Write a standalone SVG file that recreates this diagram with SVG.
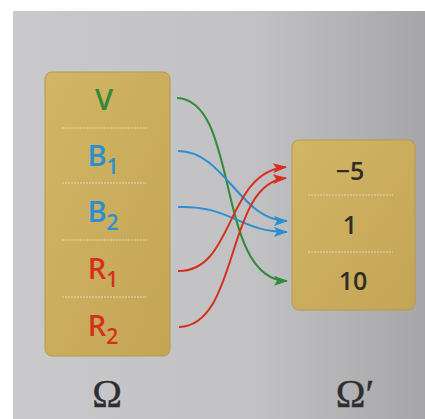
<svg xmlns="http://www.w3.org/2000/svg" width="425" height="419" viewBox="0 0 425 419">
<defs>
<linearGradient id="bg" x1="0" y1="0" x2="1" y2="0">
<stop offset="0" stop-color="#c9c9cb"/>
<stop offset="0.6" stop-color="#c1c1c3"/>
<stop offset="1" stop-color="#a6a6a8"/>
</linearGradient>
<linearGradient id="box" x1="0" y1="0" x2="1" y2="1">
<stop offset="0" stop-color="#d2b565"/>
<stop offset="1" stop-color="#c3a555"/>
</linearGradient>
<marker id="ag" viewBox="0 0 14 10" refX="13" refY="5" markerWidth="14" markerHeight="10" markerUnits="userSpaceOnUse" orient="auto"><path d="M0,0 L14,5 L0,10 L3,5 Z" fill="#2f8a3a"/></marker>
<marker id="ab" viewBox="0 0 14 10" refX="13" refY="5" markerWidth="14" markerHeight="10" markerUnits="userSpaceOnUse" orient="auto"><path d="M0,0 L14,5 L0,10 L3,5 Z" fill="#2a8fd0"/></marker>
<marker id="ar" viewBox="0 0 14 10" refX="13" refY="5" markerWidth="14" markerHeight="10" markerUnits="userSpaceOnUse" orient="auto"><path d="M0,0 L14,5 L0,10 L3,5 Z" fill="#d5301e"/></marker>
</defs>
<style>
.box{fill:url(#box);stroke:#b8994a;stroke-width:1}
.sep{stroke:#e6d8ae;stroke-width:1.2;stroke-dasharray:2 1}
.lbl{font-family:"Open Sans","DejaVu Sans",sans-serif;font-weight:600;font-size:29px;text-anchor:middle}
.sub{font-size:21px}
.num{font-family:"Open Sans","DejaVu Sans",sans-serif;font-weight:600;font-size:25px;text-anchor:middle;fill:#322d24}
.om{font-family:"Liberation Serif","DejaVu Serif",serif;font-size:40px;text-anchor:middle;fill:#2e2e30;stroke:#2e2e30;stroke-width:0.4}
.g{fill:#2f8a3a}.b{fill:#2a8fd0}.r{fill:#d5301e}
.c{fill:none;stroke-width:2}
</style>
<rect x="0" y="0" width="425" height="419" fill="#ffffff"/>
<rect x="13" y="11" width="412" height="408" fill="url(#bg)"/>
<g id="omega">
<rect class="box" x="45" y="72" width="125" height="284" rx="7"/>
<line class="sep" x1="62" y1="128" x2="147" y2="128"/>
<line class="sep" x1="62" y1="183" x2="147" y2="183"/>
<line class="sep" x1="62" y1="240" x2="147" y2="240"/>
<line class="sep" x1="62" y1="297" x2="147" y2="297"/>
<text class="lbl g" x="104" y="110">V</text>
<text class="lbl b" x="103" y="166">B<tspan class="sub" dy="8">1</tspan></text>
<text class="lbl b" x="103" y="222">B<tspan class="sub" dy="8">2</tspan></text>
<text class="lbl r" x="103" y="279">R<tspan class="sub" dy="8">1</tspan></text>
<text class="lbl r" x="103" y="336">R<tspan class="sub" dy="8">2</tspan></text>
</g>
<g id="omega-prime">
<rect class="box" x="292" y="140" width="123" height="170" rx="7"/>
<line class="sep" x1="308" y1="195" x2="393" y2="195"/>
<line class="sep" x1="308" y1="252" x2="393" y2="252"/>
<text class="num" x="350" y="180">−5</text>
<text class="num" x="350" y="234">1</text>
<text class="num" x="353" y="290">10</text>
</g>
<g id="connectors">
<path class="c" stroke="#2f8a3a" d="M177,98 C240,100 215,280 287,281" marker-end="url(#ag)"/>
<path class="c" stroke="#2a8fd0" d="M178,151 C225,151 240,221 287,221" marker-end="url(#ab)"/>
<path class="c" stroke="#2a8fd0" d="M178,207 C230,205 240,232 287,232" marker-end="url(#ab)"/>
<path class="c" stroke="#d5301e" d="M178,271 C235,272 225,172 286,167" marker-end="url(#ar)"/>
<path class="c" stroke="#d5301e" d="M179,327 C240,325 225,183 286,178" marker-end="url(#ar)"/>
</g>
<g id="labels">
<text class="om" x="107" y="407">Ω</text>
<text class="om" x="355" y="407">Ω′</text>
</g>
</svg>
